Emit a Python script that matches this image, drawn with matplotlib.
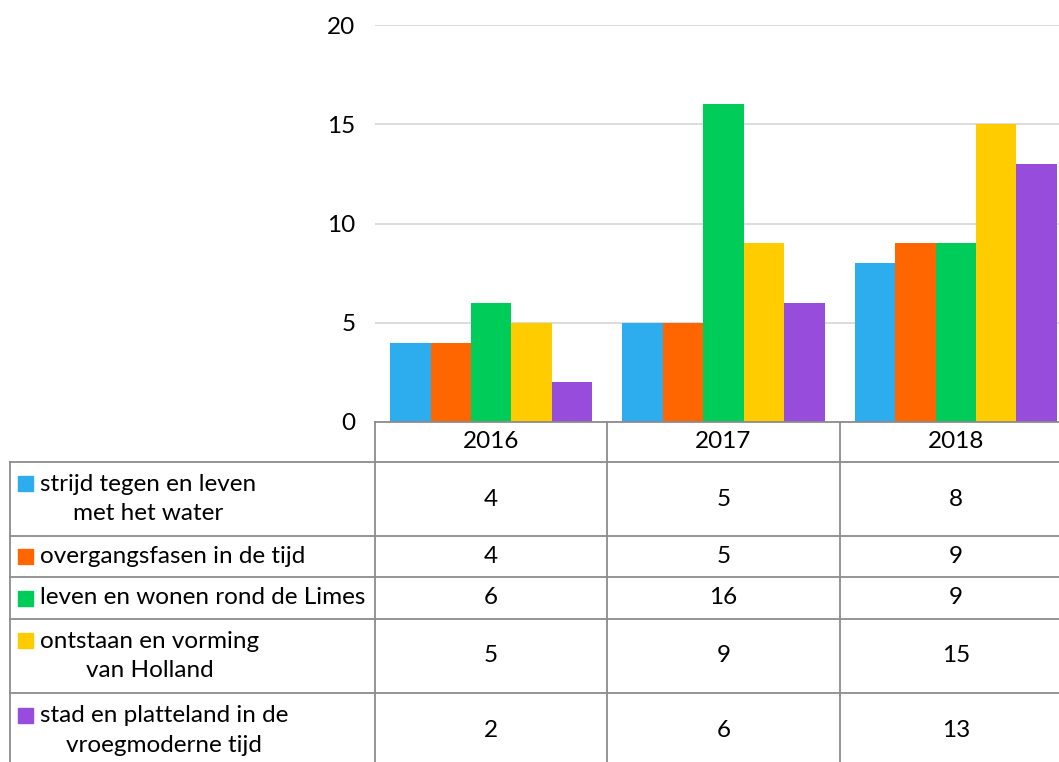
import matplotlib
matplotlib.use("Agg")
import matplotlib.pyplot as plt
from matplotlib.patches import Rectangle
from matplotlib.transforms import blended_transform_factory
import numpy as np

plt.rcParams['font.family'] = ['Lato', 'DejaVu Sans']

years = ["2016", "2017", "2018"]
series_names = [
    "strijd tegen en leven\nmet het water",
    "overgangsfasen in de tijd",
    "leven en wonen rond de Limes",
    "ontstaan en vorming\nvan Holland",
    "stad en platteland in de\nvroegmoderne tijd",
]
strijd = [4, 5, 8]
overgang = [4, 5, 9]
limes = [6, 16, 9]
holland = [5, 9, 15]
stad = [2, 6, 13]
series_values = [strijd, overgang, limes, holland, stad]
colors = ["#2EADEE", "#FF6600", "#00CC5A", "#FFCC00", "#984CDC"]
yticks = [0, 5, 10, 15, 20]

W, H = 1059, 762
FS = 17.5
fig = plt.figure(figsize=(W / 100, H / 100), dpi=100)

# main bar axes (extends past right edge, as in reference)
ax_l, ax_r, ax_t, ax_b = 375, 1072, 25, 422
ax = fig.add_axes([ax_l / W, 1 - ax_b / H, (ax_r - ax_l) / W, (ax_b - ax_t) / H])
x = np.arange(len(years))
nser = len(series_values)
bw = 0.87 / nser
for i, (vals, c) in enumerate(zip(series_values, colors)):
    ax.bar(x + (i - (nser - 1) / 2) * bw, vals, width=bw, color=c, zorder=3)
ax.set_xlim(-0.5, len(years) - 0.5)
ax.set_ylim(0, 20)
ax.set_yticks(yticks)
ax.set_yticklabels([str(t) for t in yticks], fontsize=FS)
ax.tick_params(axis='y', length=0, pad=14)
ax.set_xticks([])
for s in ax.spines.values():
    s.set_visible(False)
ax.grid(axis='y', color='#D9D9D9', linewidth=1.3, zorder=0)
ax.patch.set_alpha(0)

# table overlay in pixel coordinates
tab = fig.add_axes([0, 0, 1, 1])
tab.set_xlim(0, W)
tab.set_ylim(H, 0)
tab.axis('off')
tab.patch.set_alpha(0)
tr = blended_transform_factory(ax.transData, tab.transData)

lc = '#8C8C8C'
lw = 1.3
row_edges = [422, 462, 536, 577, 619, 693, 770]
left = 9.5
# vertical lines
tab.plot([left, left], [row_edges[1], H + 5], color=lc, lw=lw, clip_on=False)
for b in np.arange(len(years) + 1) - 0.5:
    tab.plot([b, b], [row_edges[0], H + 5], color=lc, lw=lw, transform=tr, clip_on=False)
# horizontal lines
tab.plot([-0.5, len(years) - 0.5], [row_edges[0], row_edges[0]], color=lc, lw=lw, transform=tr)
for y in row_edges[1:-1]:
    tab.plot([left, W + 20], [y, y], color=lc, lw=lw, clip_on=False)

# header row
hy = (row_edges[0] + row_edges[1]) / 2
for xi, yr in zip(x, years):
    tab.text(xi, hy, yr, transform=tr, ha='center', va='center', fontsize=FS)

# data rows
for r, (name, vals, c) in enumerate(zip(series_names, series_values, colors)):
    y0, y1 = row_edges[r + 1], row_edges[r + 2]
    if r == len(series_names) - 1:
        y1 = 768
    yc = (y0 + y1) / 2
    nlines = name.count("\n") + 1
    line_h = 31
    first_y = yc - (nlines - 1) * line_h / 2
    tab.add_patch(Rectangle((18, first_y - 7.5), 15, 15, color=c))
    tab.text(40, yc, name, ha='left', va='center', fontsize=FS,
             multialignment='center', linespacing=1.52)
    for xi, v in zip(x, vals):
        tab.text(xi, yc, str(v), transform=tr, ha='center', va='center', fontsize=FS)

fig.savefig("out.png", dpi=100)
